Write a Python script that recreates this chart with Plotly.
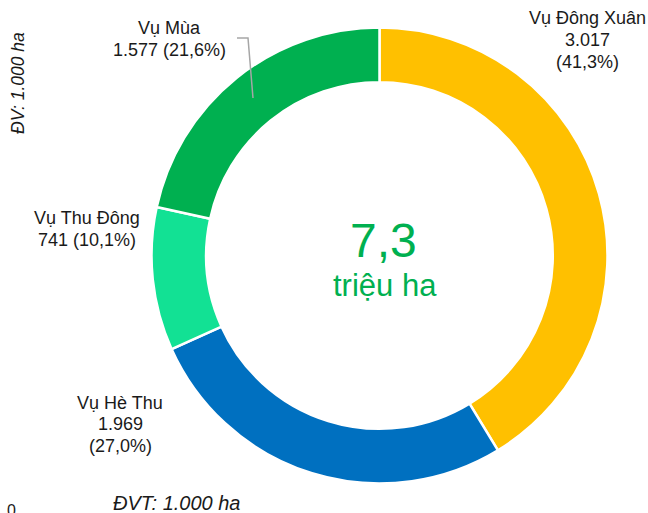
import plotly.graph_objects as go

categories = ["Vụ Đông Xuân", "Vụ Hè Thu", "Vụ Thu Đông", "Vụ Mùa"]
values = [3017, 1969, 741, 1577]
value_labels = ["3.017", "1.969", "741", "1.577"]
pct_labels = ["41,3%", "27,0%", "10,1%", "21,6%"]
colors = ["#FFC000", "#0070C0", "#12E194", "#00B050"]
total_label = "7,3"
total_unit = "triệu ha"

W, H = 648, 513
cx, cy, r = 379.5, 255.5, 228
FONT = "Liberation Sans, Arial, sans-serif"

def px(x):
    return x / W

def py(y):
    return 1 - y / H

fig = go.Figure()
fig.add_trace(go.Pie(
    labels=categories, values=values, sort=False, direction="clockwise",
    rotation=0, hole=0.76, textinfo="none", hoverinfo="label+value+percent",
    marker=dict(colors=colors, line=dict(color="white", width=2.5)),
    domain=dict(x=[px(cx - r), px(cx + r)], y=[py(cy + r), py(cy - r)]),
    showlegend=False,
))

lab_font = dict(family=FONT, size=18, color="#1a1a1a")
ann = []
def add(text, x, y, **kw):
    d = dict(text=text, x=px(x), y=py(y), xref="paper", yref="paper",
             showarrow=False, font=kw.pop("font", lab_font),
             xanchor="center", yanchor="middle")
    d.update(kw)
    ann.append(d)

# Vụ Đông Xuân
add(categories[0], 587, 18)
add(value_labels[0], 587, 40)
add(f"({pct_labels[0]})", 587, 62)
# Vụ Mùa
add(categories[3], 169, 28)
add(f"{value_labels[3]} ({pct_labels[3]})", 169, 50)
# Vụ Thu Đông
add(categories[2], 87, 218)
add(f"{value_labels[2]} ({pct_labels[2]})", 87, 240)
# Vụ Hè Thu
add(categories[1], 120, 403)
add(value_labels[1], 120, 424)
add(f"({pct_labels[1]})", 120, 446)

add(total_label, 383, 240, font=dict(family=FONT, size=48, color="#00B050"))
add(total_unit, 385, 285, font=dict(family=FONT, size=31, color="#00B050"))

add("<i>ĐV: 1.000 ha</i>", 18, 83, textangle=-90,
    font=dict(family=FONT, size=17.5, color="#1a1a1a"))
add("<i>ĐVT: 1.000 ha</i>", 176, 503,
    font=dict(family=FONT, size=20, color="#1a1a1a"))
add("0", 11, 510,
    font=dict(family=FONT, size=16, color="#1a1a1a"))

fig.update_layout(
    width=W, height=H, margin=dict(l=0, r=0, t=0, b=0),
    paper_bgcolor="white", plot_bgcolor="white",
    annotations=ann,
    shapes=[dict(type="path", xref="paper", yref="paper",
                 path=f"M {px(237)} {py(38)} L {px(248)} {py(38)} L {px(253)} {py(98)}",
                 line=dict(color="#A6A6A6", width=1.5))],
)
fig.write_html("out.html", config={"displayModeBar": False},
               post_script="document.body.style.margin='0';document.body.style.overflow='hidden';")
